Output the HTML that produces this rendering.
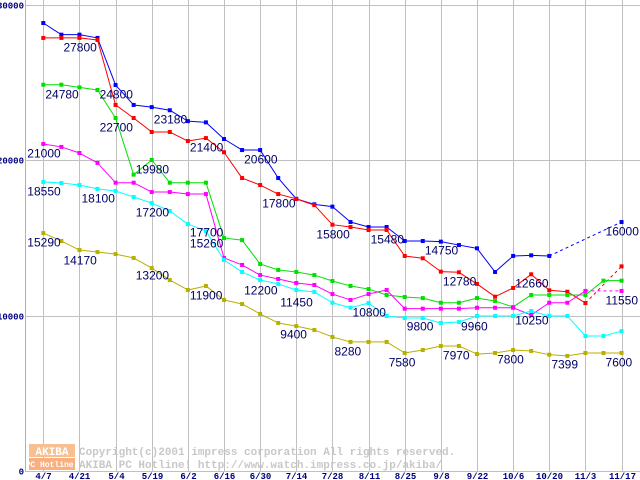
<!DOCTYPE html>
<html><head><meta charset="utf-8"><style>
html,body{margin:0;padding:0;background:#fff;}
svg{display:block;}
text{font-family:"Liberation Mono","DejaVu Sans Mono",monospace;}
text.vl{font-family:"Liberation Sans","DejaVu Sans",sans-serif;}
</style></head><body>
<svg id="c" width="640" height="480" viewBox="0 0 640 480" xmlns="http://www.w3.org/2000/svg">
<g id="grid"></g>
<g id="wm">
<rect x="29" y="444" width="46" height="13" fill="#f8c090"/>
<rect x="29" y="458" width="46" height="12" fill="#f8b080"/>
<text x="52" y="455" font-size="11" fill="#fff" text-anchor="middle" font-weight="bold">AKIBA</text>
<text x="52" y="467" font-size="8" fill="#fff" text-anchor="middle" font-weight="bold">PC Hotline!</text>
<text x="79" y="455" font-size="11" fill="#c8c8c8" font-weight="bold">Copyright(c)2001 impress corporation All rights reserved.</text>
<text x="79" y="468" font-size="11" fill="#c8c8c8" font-weight="bold">AKIBA PC Hotline!  http://www.watch.impress.co.jp/akiba/</text>
</g>
<g id="series"></g>
<g id="labels"></g>
</svg>
<script>
const xLabels = ["4/7","4/21","5/4","5/19","6/2","6/16","6/30","7/14","7/28","8/11","8/25","9/8","9/22","10/6","10/20","11/3","11/17"];
const yTicks = [0,10000,20000,30000];
const blueVals = [28810,28060,28060,27850,24820,23540,23400,23200,22500,22420,21350,20640,20640,18840,17500,17150,17000,16010,15690,15690,14790,14790,14750,14530,14320,12800,13830,13870,13830,null,null,null,16010];
const redVals = [27850,27850,27850,27720,23540,22700,21800,21800,21220,21410,20500,18840,18390,17810,17500,17100,15840,15690,15500,15500,13830,13680,12820,12780,12030,11210,11770,12650,11620,11530,10800,null,13160];
const greenVals = [24840,24840,24670,24500,22700,19060,20000,18540,18540,18540,14980,14850,13310,12930,12800,12600,12220,11900,11700,11320,11190,11120,10820,10820,11120,10930,10550,11320,11320,11320,11320,12240,12240];
const magentaVals = [21030,20840,20450,19810,18540,18540,17940,17940,17810,17810,13700,13250,12600,12350,12090,11960,11380,11000,11380,11640,10440,10440,10440,10440,10500,10500,10500,10030,10820,10820,11580,null,11580];
const cyanVals = [18590,18520,18390,18140,18010,17620,17230,16720,15880,15430,13570,12800,12280,12030,11640,11510,10820,10500,10800,9970,9840,9840,9520,9580,9970,9970,9970,10290,9970,9970,8680,8680,9000];
const oliveVals = [15300,14790,14210,14080,13950,13700,13050,12280,11640,11900,11000,10740,10100,9520,9320,9070,8620,8300,8300,8300,7590,7780,8040,8040,7520,7590,7780,7720,7480,7400,7590,7590,7590];
const seriesNames = ["blue","red","green","magenta","cyan","olive"];
const seriesColors = ["#0000ff","#ff0000","#00e000","#ff00ff","#00ffff","#b8b000"];
const labelTexts = ["27800","24780","24800","22700","23180","21400","20600","21000","19980","18550","18100","17200","17700","15260","15290","14170","13200","11900","12200","11450","17800","15800","15480","14750","12780","12660","11550","16000","10800","9800","9960","10250","8280","7580","7970","7800","7399","7600","9400"];
const labelIdx = [2,1,4,4,7,9,12,0,6,0,3,6,9,9,0,2,6,9,12,14,13,16,19,22,23,27,32,32,18,21,24,27,17,20,23,26,29,32,14];
const labelVal = [27270,24240,24240,22120,22640,20840,20060,20450,19420,18010,17560,16660,15370,14660,14730,13570,12600,11320,11640,10870,17230,15240,14920,14210,12220,12090,11000,15430,10230,9320,9320,9710,7720,7010,7460,7200,6880,7010,8810];
const svgNS="http://www.w3.org/2000/svg";
const X0=43.3, DX=18.07, Y0=471, PER=0.01555;
function xs(i){return X0+DX*i;}
function ys(v){return Y0-v*PER;}
const grid=document.getElementById('grid');
function mk(tag,attrs,parent){const e=document.createElementNS(svgNS,tag);for(const k in attrs)e.setAttribute(k,attrs[k]);parent.appendChild(e);return e;}
let ax=mk('line',{x1:25.5,y1:0,x2:25.5,y2:471,stroke:'#b0b0b0','stroke-width':1},grid);


yTicks.forEach((t,i)=>{
  const y=Math.round(ys(t))+0.5;
  const l=mk('line',{x1:25,y1:y,x2:640,y2:y,stroke:'#c0c0c0','stroke-width':1},grid);
  
  
  const tx=mk('text',{x:24,y:y+3,'font-size':9,'font-weight':'bold',fill:'#000080','text-anchor':'end'},grid);
  tx.textContent=t;
  
  
});
xLabels.forEach((lab,i)=>{
  const x=Math.round(xs(i*2))+0.5;
  const l=mk('line',{x1:x,y1:0,x2:x,y2:471,stroke:'#c0c0c0','stroke-width':1},grid);
  
  
  const tx=mk('text',{x:x,y:479,'font-size':9,'font-weight':'bold',fill:'#000080','text-anchor':'middle'},grid);
  tx.textContent=lab;
  
  
});
const allVals=[blueVals,redVals,greenVals,magentaVals,cyanVals,oliveVals];
const sg=document.getElementById('series');
allVals.forEach((vals,s)=>{
  const col=seriesColors[s];
  const g=mk('g',{},sg);
  
  
  let prev=null,gap=false;
  vals.forEach((v,i)=>{
    if(v===null){gap=true;return;}
    if(prev!==null){
      const seg=mk('line',{x1:xs(prev),y1:ys(vals[prev]),x2:xs(i),y2:ys(v),stroke:col,'stroke-width':1},g);
      if(gap)seg.setAttribute('stroke-dasharray','3,3');
      
      
    }
    prev=i;gap=false;
  });
  vals.forEach((v,i)=>{
    if(v===null)return;
    const r=mk('rect',{x:xs(i)-2,y:ys(v)-2,width:4,height:4,fill:col},g);
    
    
  });
});
const lg=document.getElementById('labels');
labelTexts.forEach((t,i)=>{
  const tx=mk('text',{'class':'vl',x:xs(labelIdx[i])-16,y:ys(labelVal[i])+4.5,'font-size':12,fill:'#000066'},lg);
  tx.textContent=t;
  
  
});
</script>
</body></html>
